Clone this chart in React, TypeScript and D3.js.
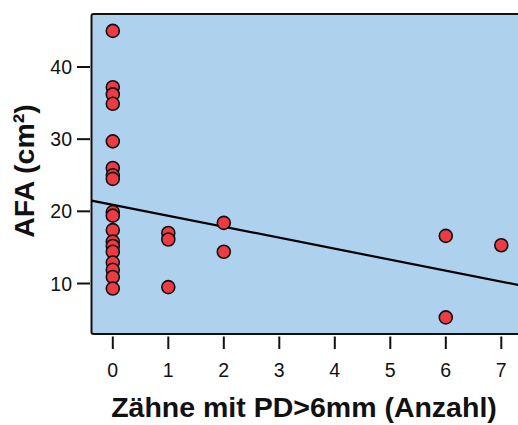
import React from "react";
import * as d3 from "d3";

const xValues = [0, 0, 0, 0, 0, 0, 0, 0, 0, 0, 0, 0, 0, 0, 0, 0, 0, 0, 1, 1, 1, 2, 2, 6, 6, 7];
const yValues = [45.0, 37.2, 36.2, 34.9, 29.7, 26.0, 25.0, 24.5, 19.9, 19.4, 17.4, 15.8, 15.2, 14.4, 12.9, 11.9, 10.9, 9.3, 17.0, 16.1, 9.5, 18.4, 14.4, 16.6, 5.3, 15.3];
const xTicks = [0, 1, 2, 3, 4, 5, 6, 7];
const yTicks = [10, 20, 30, 40];
const fitIntercept = 20.9;
const fitSlope = -1.52;

export default function App() {
  const W = 518, H = 425;
  const left = 91.5, top = 14, bottom = 334, right = 540;
  const x = d3.scaleLinear().domain([0, 7]).range([112.8, 501.3]);
  const y = d3.scaleLinear().domain([10, 40]).range([283.5, 67]);
  const x0 = x.invert(left), x1 = x.invert(right);
  const line = d3.line<number>().x(d => x(d)).y(d => y(fitIntercept + fitSlope * d));
  const font = "Liberation Sans, Arial, Helvetica, sans-serif";
  return (
    <svg width={W} height={H} style={{ position: "absolute", left: 0, top: 0 }} fontFamily={font}>
      <defs>
        <clipPath id="plot"><rect x={left} y={top} width={right - left} height={bottom - top} /></clipPath>
      </defs>
      <rect x={left} y={top} width={right - left} height={bottom - top} fill="#AED1EE" stroke="#111" strokeWidth={2} rx={2} />
      <g clipPath="url(#plot)">
        <path d={line([x0, x1]) || ""} stroke="#000" strokeWidth={2.2} fill="none" />
        {xValues.map((xv, i) => (
          <circle key={i} cx={x(xv)} cy={y(yValues[i])} r={6.5} fill="#EE3A43" stroke="#111" strokeWidth={1.6} />
        ))}
      </g>
      {xTicks.map(t => (
        <g key={t}>
          <line x1={x(t)} x2={x(t)} y1={336.5} y2={349} stroke="#111" strokeWidth={2} />
          <text x={x(t)} y={377} textAnchor="middle" fontSize={19.5} fill="#111">{t}</text>
        </g>
      ))}
      {yTicks.map(t => (
        <g key={t}>
          <line x1={77} x2={90} y1={y(t)} y2={y(t)} stroke="#111" strokeWidth={2} />
          <text x={72} y={y(t)} dy="0.36em" textAnchor="end" fontSize={19.5} fill="#111">{t}</text>
        </g>
      ))}
      <text x={304} y={417} textAnchor="middle" fontSize={28.5} fontWeight="bold" fill="#111">Zähne mit PD&gt;6mm (Anzahl)</text>
      <text transform="translate(34,171) rotate(-90)" textAnchor="middle" fontSize={28.5} fontWeight="bold" fill="#111">AFA (cm²)</text>
    </svg>
  );
}
